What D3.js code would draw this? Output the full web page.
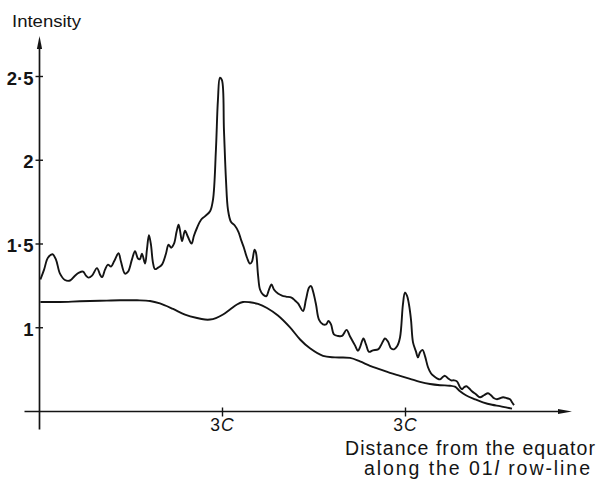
<!DOCTYPE html>
<html><head><meta charset="utf-8">
<script src="https://cdn.jsdelivr.net/npm/d3@7"></script>
<style>body{margin:0;background:#fff}</style>
</head><body>
<svg id="c" width="599" height="480"></svg>
<script>
// Observed intensity along the row-line (upper trace)
const observedX = [0.005,0.025,0.046,0.071,0.090,0.112,0.139,0.167,0.194,0.216,
0.238,0.254,0.268,0.287,0.314,0.331,0.342,0.358,0.374,0.391,
0.407,0.432,0.445,0.467,0.484,0.505,0.522,0.538,0.549,0.560,
0.577,0.587,0.598,0.609,0.620,0.631,0.648,0.669,0.691,0.705,
0.719,0.735,0.749,0.760,0.768,0.779,0.795,0.811,0.831,0.844,
0.861,0.883,0.904,0.932,0.948,0.964,0.975,0.986,0.997,1.008,
1.019,1.030,1.046,1.068,1.087,1.101,1.117,1.134,1.150,1.161,
1.175,1.183,1.194,1.205,1.221,1.240,1.254,1.268,1.281,1.303,
1.325,1.347,1.377,1.396,1.413,1.440,1.456,1.473,1.484,1.495,
1.511,1.527,1.549,1.566,1.579,1.593,1.609,1.631,1.653,1.678,
1.697,1.724,1.740,1.751,1.770,1.784,1.801,1.822,1.850,1.866,
1.888,1.904,1.921,1.937,1.954,1.970,1.986,1.997,2.008,2.019,
2.030,2.041,2.057,2.068,2.079,2.093,2.107,2.123,2.139,2.156,
2.172,2.189,2.205,2.216,2.232,2.249,2.265,2.281,2.298,2.309,
2.320,2.333,2.347,2.363,2.385,2.407,2.429,2.451,2.467,2.484,
2.500,2.516,2.533,2.555,2.571,2.582,2.593];
const observedY = [1.288,1.347,1.418,1.439,1.407,1.323,1.285,1.282,1.311,1.329,
1.335,1.311,1.299,1.311,1.356,1.317,1.302,1.347,1.377,1.365,
1.395,1.445,1.395,1.323,1.335,1.407,1.457,1.413,1.410,1.442,
1.383,1.466,1.552,1.496,1.389,1.350,1.359,1.377,1.442,1.496,
1.478,1.502,1.573,1.615,1.579,1.517,1.579,1.543,1.502,1.549,
1.597,1.645,1.665,1.695,1.764,2.061,2.359,2.493,2.478,2.180,
1.883,1.704,1.633,1.609,1.573,1.526,1.478,1.418,1.383,1.395,
1.466,1.448,1.317,1.228,1.198,1.189,1.228,1.258,1.228,1.204,
1.192,1.186,1.180,1.163,1.145,1.100,1.168,1.240,1.249,1.216,
1.139,1.049,1.020,1.020,1.040,1.020,0.960,0.951,0.951,0.987,
0.948,0.895,0.862,0.883,0.936,0.901,0.856,0.865,0.871,0.895,
0.936,0.918,0.877,0.871,0.889,0.942,1.139,1.210,1.192,1.139,
1.049,0.913,0.859,0.823,0.853,0.868,0.829,0.764,0.728,0.710,
0.698,0.692,0.707,0.713,0.698,0.686,0.686,0.680,0.645,0.633,
0.645,0.651,0.639,0.621,0.603,0.585,0.597,0.609,0.597,0.579,
0.573,0.579,0.585,0.579,0.573,0.555,0.538];

// Smooth background curve (lower trace)
const backgroundX = [0.005,0.112,0.221,0.331,0.440,0.533,0.604,0.658,0.730,0.795,
0.861,0.904,0.932,0.964,1.003,1.041,1.079,1.112,1.150,1.194,
1.243,1.303,1.369,1.424,1.478,1.549,1.615,1.697,1.751,1.806,
1.861,1.915,1.970,2.025,2.079,2.134,2.189,2.243,2.270,2.298,
2.330,2.380,2.423,2.473,2.516,2.555,2.582];
const backgroundY = [1.154,1.154,1.158,1.161,1.164,1.164,1.160,1.145,1.112,1.079,
1.058,1.049,1.049,1.058,1.079,1.109,1.139,1.154,1.152,1.142,
1.118,1.073,1.002,0.930,0.877,0.832,0.823,0.820,0.799,0.773,
0.752,0.731,0.713,0.695,0.677,0.664,0.657,0.654,0.648,0.621,
0.597,0.573,0.555,0.540,0.532,0.523,0.517];

const yTickValues = [1, 1.5, 2, 2.5];
const yTickLabels = ["1", "1\u00B75", "2", "2\u00B75"];
const xTickValues = [1, 2];
const xTickNumerals = ["3", "3"];
const xTickLetters = ["C", "C"];
const yAxisTitle = "Intensity";
const xAxisTitleLine1 = "Distance from the equator";
const xAxisTitleLine2 = ["along the 01", "l", " row-line"];

const svg = d3.select("#c");
const FONT = "'Liberation Sans', Arial, Helvetica, sans-serif";
const INK = "#141414";

const x = d3.scaleLinear().domain([0, 2]).range([39.5, 405.5]);
const y = d3.scaleLinear().domain([0.5, 2.5]).range([411.5, 76.5]);

const x0 = x(0), yBase = y(0.5);

// axes
svg.append("line").attr("x1", x0).attr("x2", x0).attr("y1", yBase + 18).attr("y2", 44)
  .attr("stroke", INK).attr("stroke-width", 1.7);
svg.append("path").attr("d", `M${x0},36 L${x0-2.6},49 L${x0+2.6},49 Z`).attr("fill", INK);

svg.append("line").attr("x1", x0 - 15).attr("x2", 563).attr("y1", yBase).attr("y2", yBase)
  .attr("stroke", INK).attr("stroke-width", 1.7);
svg.append("path").attr("d", `M572,${yBase} L558,${yBase-2.6} L558,${yBase+2.6} Z`).attr("fill", INK);

// y ticks
yTickValues.forEach((v, i) => {
  svg.append("line").attr("x1", x0 - 4).attr("x2", x0 + 3.5)
    .attr("y1", y(v)).attr("y2", y(v)).attr("stroke", INK).attr("stroke-width", 1.4);
  svg.append("text").attr("x", x0 - 6).attr("y", y(v) + 8)
    .attr("text-anchor", "end").attr("font-family", FONT).attr("font-size", 18.5)
    .attr("font-weight", "bold").attr("fill", INK).text(yTickLabels[i]);
});

// x ticks
xTickValues.forEach((v, i) => {
  svg.append("line").attr("x1", x(v)).attr("x2", x(v))
    .attr("y1", yBase - 4).attr("y2", yBase + 5).attr("stroke", INK).attr("stroke-width", 1.4);
  const t = svg.append("text").attr("x", x(v)).attr("y", yBase + 19)
    .attr("text-anchor", "middle").attr("font-family", FONT).attr("font-size", 17.5)
    .attr("fill", INK).attr("letter-spacing", 1);
  t.append("tspan").text(xTickNumerals[i]);
  t.append("tspan").attr("font-style", "italic").text(xTickLetters[i]);
});

// titles
svg.append("text").attr("x", 12).attr("y", 26.5).attr("font-family", FONT)
  .attr("font-size", 16).attr("fill", INK).attr("textLength", 69)
  .attr("lengthAdjust", "spacingAndGlyphs").text(yAxisTitle);

svg.append("text").attr("x", 345).attr("y", 455).attr("font-family", FONT)
  .attr("font-size", 19.5).attr("fill", INK).attr("textLength", 250)
  .attr("lengthAdjust", "spacing").text(xAxisTitleLine1);

const l2 = svg.append("text").attr("x", 364).attr("y", 475).attr("font-family", FONT)
  .attr("font-size", 19.5).attr("fill", INK).attr("textLength", 226)
  .attr("lengthAdjust", "spacing");
l2.append("tspan").text(xAxisTitleLine2[0]);
l2.append("tspan").attr("font-style", "italic").text(xAxisTitleLine2[1]);
l2.append("tspan").text(xAxisTitleLine2[2]);

// curves
const line = d3.line().x(d => x(d[0])).y(d => y(d[1])).curve(d3.curveCatmullRom.alpha(0.5));
svg.append("path").datum(d3.zip(backgroundX, backgroundY))
  .attr("d", line).attr("fill", "none").attr("stroke", INK).attr("stroke-width", 1.9);
svg.append("path").datum(d3.zip(observedX, observedY))
  .attr("d", line).attr("fill", "none").attr("stroke", INK).attr("stroke-width", 1.9)
  .attr("stroke-linejoin", "round");
</script>
</body></html>
